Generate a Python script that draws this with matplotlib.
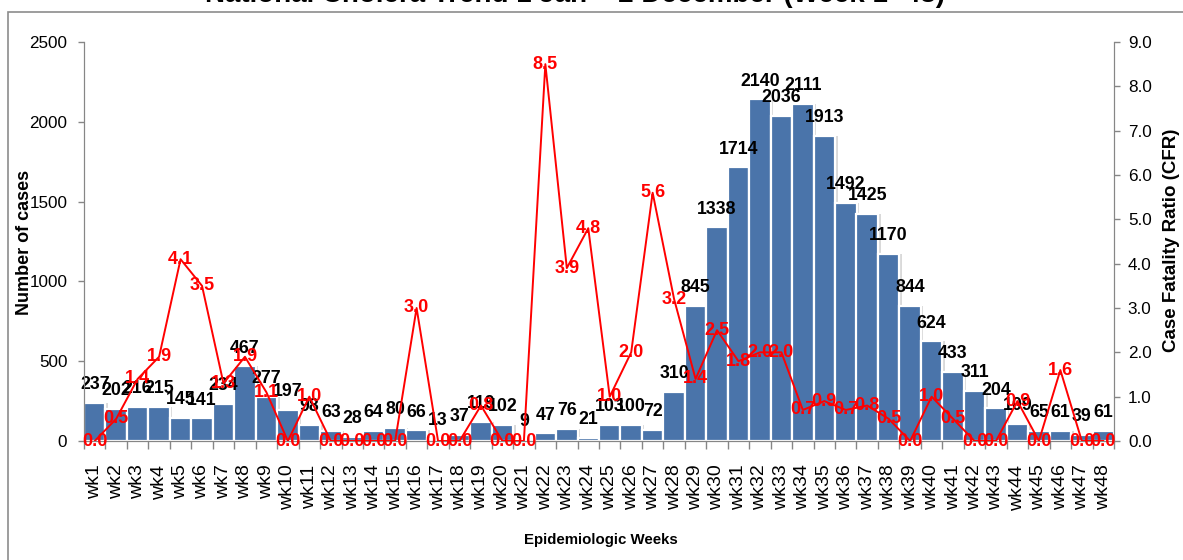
import matplotlib
matplotlib.use("Agg")
import matplotlib.pyplot as plt
from matplotlib.patches import Rectangle

weeks = [f"wk{i}" for i in range(1, 49)]
cases = [237, 202, 216, 215, 145, 141, 234, 467, 277, 197, 98, 63, 28, 64, 80, 66,
         13, 37, 119, 102, 9, 47, 76, 21, 103, 100, 72, 310, 845, 1338, 1714, 2140,
         2036, 2111, 1913, 1492, 1425, 1170, 844, 624, 433, 311, 204, 109, 65, 61, 39, 61]
cfr = [0.0, 0.5, 1.4, 1.9, 4.1, 3.5, 1.3, 1.9, 1.1, 0.0, 1.0, 0.0, 0.0, 0.0, 0.0, 3.0,
       0.0, 0.0, 0.8, 0.0, 0.0, 8.5, 3.9, 4.8, 1.0, 2.0, 5.6, 3.2, 1.4, 2.5, 1.8, 2.0,
       2.0, 0.7, 0.9, 0.7, 0.8, 0.5, 0.0, 1.0, 0.5, 0.0, 0.0, 0.9, 0.0, 1.6, 0.0, 0.0]
left_ticks = [0, 500, 1000, 1500, 2000, 2500]
right_ticks = [0.0, 1.0, 2.0, 3.0, 4.0, 5.0, 6.0, 7.0, 8.0, 9.0]

title = "National Cholera Trend 1 Jan – 2 December (Week 1- 48)"
NARROW = ["Liberation Sans Narrow", "Liberation Sans", "DejaVu Sans"]
ARIAL = ["Liberation Sans", "DejaVu Sans"]
GRAY = "#868686"
BLUE = "#4A74AA"

W, H = 1183, 560
fig = plt.figure(figsize=(W / 100, H / 100), dpi=100)
ax = fig.add_axes([84 / W, 1 - 441 / H, (1114 - 84) / W, (441 - 42) / H])
ax2 = ax.twinx()

x = list(range(len(weeks)))
# shadow
ax.bar([xi + 0.12 for xi in x], cases, width=1.0, color="#d9d9d9", edgecolor="none", zorder=1)
ax.bar(x, cases, width=1.0, color=BLUE, edgecolor="white", linewidth=1.6, zorder=2)

ax.set_xlim(-0.5, len(weeks) - 0.5)
ax.set_ylim(0, 2500)
ax.set_yticks(left_ticks)
ax.set_yticklabels([str(t) for t in left_ticks], family=NARROW, fontsize=12.3)
ax.tick_params(axis="y", length=4, width=1, color=GRAY, pad=8)

ax.set_xticks([i - 0.5 for i in range(len(weeks) + 1)])
ax.set_xticklabels([])
ax.tick_params(axis="x", which="major", length=6, width=1, color=GRAY)
ax.set_xticks(x, minor=True)
ax.set_xticklabels(weeks, minor=True, rotation=90, family=ARIAL, fontsize=14)
ax.tick_params(axis="x", which="minor", length=0, pad=17)

for s in ["top"]:
    ax.spines[s].set_visible(False)
    ax2.spines[s].set_visible(False)
for s in ["left", "bottom", "right"]:
    ax.spines[s].set_color(GRAY)
    ax2.spines[s].set_color(GRAY)

ax2.set_ylim(0, 9.0)
ax2.set_yticks(right_ticks)
ax2.set_yticklabels([f"{t:.1f}" for t in right_ticks], family=NARROW, fontsize=12.3)
ax2.tick_params(axis="y", length=4, width=1, color=GRAY, pad=6)

ax2.plot(x, cfr, color="red", linewidth=1.4, zorder=3)

for xi, c in zip(x, cases):
    ax.annotate(str(c), (xi, c), xytext=(0, 10), textcoords="offset points",
                ha="center", va="baseline", family=NARROW, fontweight="bold",
                fontsize=12.8, color="black", zorder=5, annotation_clip=False)
ax2.set_zorder(ax.get_zorder() + 1)
ax2.patch.set_visible(False)
for xi, v in zip(x, cfr):
    ax2.text(xi, v, f"{v:.1f}", ha="center", va="center", family=NARROW,
             fontweight="bold", fontsize=13, color="red", zorder=6, clip_on=False)

fig.text(25 / W, 1 - 242 / H, "Number of cases", rotation=90, ha="center", va="center",
         family=NARROW, fontweight="bold", fontsize=13)
fig.text(1172 / W, 1 - 240 / H, "Case Fatality Ratio (CFR)", rotation=90, ha="center",
         va="center", family=NARROW, fontweight="bold", fontsize=13.5)
fig.text(601 / W, 1 - 540 / H, "Epidemiologic Weeks", ha="center", va="center",
         family=NARROW, fontweight="bold", fontsize=10.8)
fig.text(575 / W, 1 - 2 / H, title, ha="center", va="baseline", family=ARIAL,
         fontweight="bold", fontsize=20)

fig.patches.append(Rectangle((8 / W, -0.1), 2, 1.1 - 12 / H, transform=fig.transFigure,
                             fill=False, edgecolor="#8c8c8c", linewidth=1.2))

fig.savefig("out.png", dpi=100)
